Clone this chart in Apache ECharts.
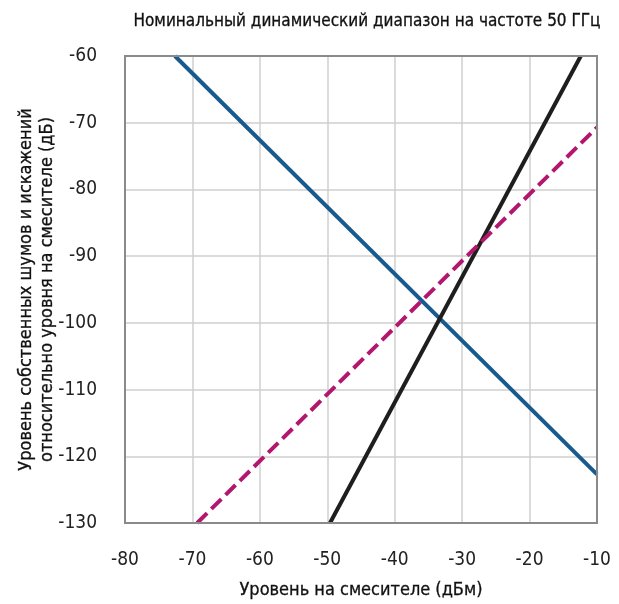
<!DOCTYPE html>
<html><head><meta charset="utf-8">
<script src="https://cdn.jsdelivr.net/npm/echarts@6/dist/echarts.min.js"></script>
<style>html,body{margin:0;padding:0;background:#fff}#c{width:619px;height:604px}</style>
</head><body><div id="c"></div>
<script>
const FONT = '"Liberation Sans Narrow","DejaVu Sans Condensed","Roboto",sans-serif';
const titleText = 'Номинальный динамический диапазон на частоте 50 ГГц';
const xName = 'Уровень на смесителе (дБм)';
const yName = 'Уровень собственных шумов и искажений\nотносительно уровня на смесителе (дБ)';
const xMin = -80, xMax = -10, xStep = 10;
const yMin = -130, yMax = -60, yStep = 10;
// line endpoints [x, y]
const noiseLine = [[-72.6, -60], [-10, -122.7]];      // blue
const thirdOrder = [[-49.6, -130], [-12.4, -60]];      // black
const secondOrder = [[-69.3, -130], [-10, -70.7]];     // magenta dashed

const chart = echarts.init(document.getElementById('c'));
chart.setOption({
  animation: false,
  backgroundColor: '#fff',
  title: {
    text: titleText, left: 362, textAlign: 'center', top: 8,
    textStyle: {fontFamily: FONT, fontSize: 17, fontWeight: 'normal', color: '#111', textBorderColor: '#111', textBorderWidth: 0.3}
  },
  grid: {left: 125, right: 22, top: 56, bottom: 81, containLabel: false, outerBoundsMode: 'none'},
  xAxis: {
    type: 'value', min: xMin, max: xMax, interval: xStep,
    name: xName, nameLocation: 'middle', nameGap: 58, nameMoveOverlap: false,
    nameTextStyle: {fontFamily: FONT, fontSize: 18, color: '#111', textBorderColor: '#111', textBorderWidth: 0.3},
    axisLine: {show: true, onZero: false, lineStyle: {color: '#8a8a8a', width: 2}},
    axisTick: {show: false},
    axisLabel: {margin: 28, fontFamily: FONT, fontSize: 19, color: '#222'},
    splitLine: {show: true, lineStyle: {color: '#cfcfcf', width: 1.5}}
  },
  yAxis: {
    type: 'value', min: yMin, max: yMax, interval: yStep,
    name: yName, nameLocation: 'middle', nameGap: 67, nameRotate: 90, nameMoveOverlap: false,
    nameTextStyle: {fontFamily: FONT, fontSize: 18, color: '#111', lineHeight: 21, align: 'center', textBorderColor: '#111', textBorderWidth: 0.3},
    axisLine: {show: true, onZero: false, lineStyle: {color: '#8a8a8a', width: 2}},
    axisTick: {show: false},
    axisLabel: {margin: 28, fontFamily: FONT, fontSize: 19, color: '#222'},
    splitLine: {show: true, lineStyle: {color: '#cfcfcf', width: 1.5}}
  },
  series: [
    {type: 'line', data: noiseLine, symbol: 'none', lineStyle: {color: '#175a8e', width: 4}},
    {type: 'line', data: thirdOrder, symbol: 'none', lineStyle: {color: '#1e1e1e', width: 4}},
    {type: 'line', data: secondOrder, symbol: 'none', lineStyle: {color: '#b3166f', width: 4, type: [14, 6]}}
  ],
  graphic: [{
    type: 'rect', shape: {x: 125, y: 56, width: 472, height: 467},
    style: {fill: 'none', stroke: '#8a8a8a', lineWidth: 2}, silent: true, z: 10
  }]
});
</script></body></html>
